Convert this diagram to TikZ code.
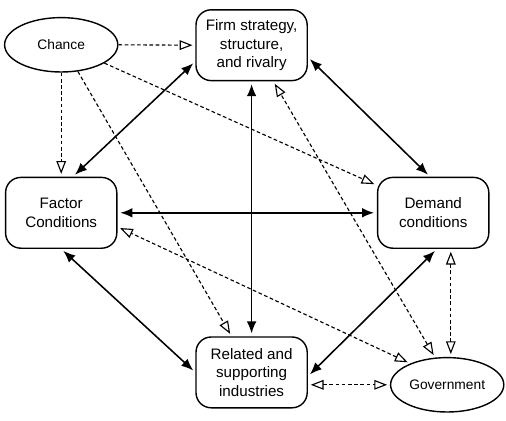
\documentclass[tikz,border=0pt]{standalone}
\usepackage{fontspec}
\setmainfont{Liberation Sans}
\usetikzlibrary{shapes.geometric,arrows.meta}

\begin{document}
\begin{tikzpicture}[
    box/.style={draw, rounded corners=0.38cm, line width=1pt, minimum width=2.78cm, minimum height=1.77cm, align=center, inner sep=0pt, font=\fontsize{10.8}{13.2}\selectfont},
    oval/.style={draw, ellipse, line width=1pt, inner sep=0pt, minimum width=2.83cm, minimum height=1.36cm, font=\fontsize{9.8}{12}\selectfont},
    both/.style={{Latex[length=3mm,width=2.4mm]}-{Latex[length=3mm,width=2.4mm]}, line width=1.1pt, shorten <=2pt, shorten >=2pt},
    influence/.style={-{Triangle[open,length=3.2mm,width=2.4mm]}, line width=0.8pt, dash pattern=on 2.6pt off 1.8pt, shorten >=2pt},
    mutual/.style={influence, {Triangle[open,length=3.2mm,width=2.4mm]}-{Triangle[open,length=3.2mm,width=2.4mm]}, shorten <=2pt}]

    \useasboundingbox (0, 0) rectangle (12.65, 10.5);

    \node[oval] (chance) at (1.53, 9.38) {Chance};
    \node[box] (firm) at (6.29, 9.37) {Firm strategy,\\structure,\\and rivalry};
    \node[box] (factor) at (1.53, 5.18) {Factor\\Conditions};
    \node[box] (demand) at (10.83, 5.18) {Demand\\conditions};
    \node[box] (related) at (6.29, 1.19) {Related and\\supporting\\industries};
    \node[oval] (gov) at (11.18, 0.88) {Government};

    \draw[influence] (chance.east) -- (firm.west);
    \draw[influence] (chance.south) -- (factor.north);
    \draw[influence] (chance.-58) -- (related.119);
    \draw[influence] (chance.-23) -- (demand.154);

    \draw[both] (firm.196) -- (factor.72);
    \draw[both] (firm.-12) -- (demand.95);
    \draw[both] (firm.south) -- (related.north);
    \draw[both] (factor.east) -- (demand.west);
    \draw[both] (factor.south) -- (related.west);
    \draw[both] (demand.-84) -- (related.-4);

    \draw[mutual] (gov.114) -- (firm.-59);
    \draw[mutual] (gov.150) -- (factor.-14);
    \draw[mutual] (demand.-64) -- (demand.-64 |- gov.north);
    \draw[mutual] (gov.west -| related.east) -- (gov.west);

\end{tikzpicture}
\end{document}
